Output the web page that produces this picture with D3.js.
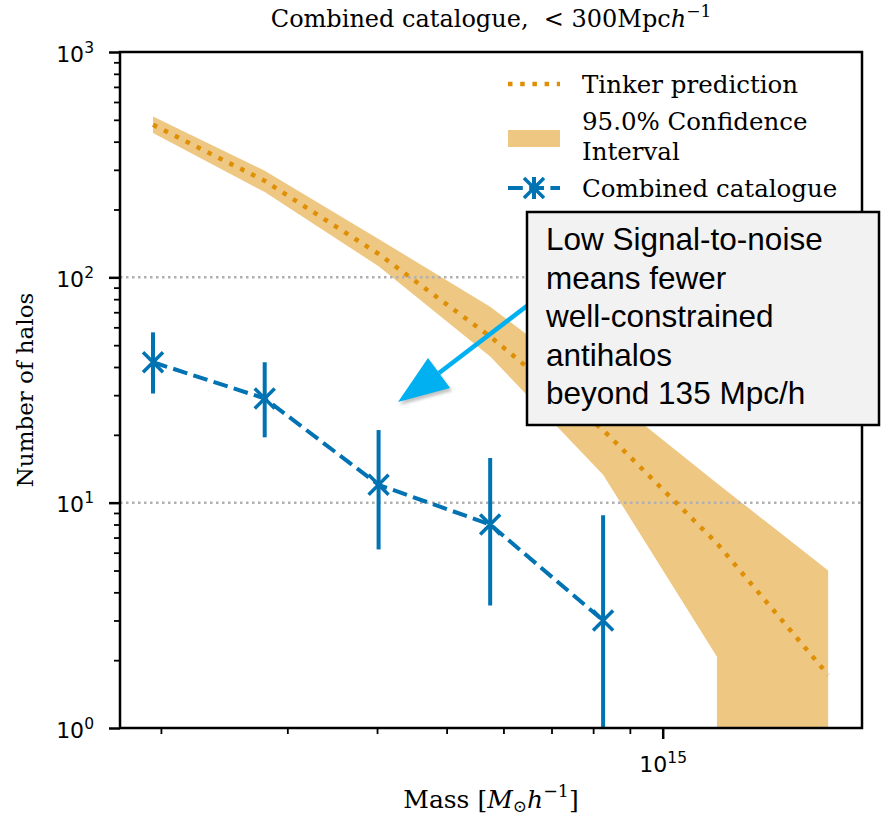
<!DOCTYPE html>
<html>
<head>
<meta charset="utf-8">
<script src="https://cdn.jsdelivr.net/npm/d3@7"></script>
<style>
  body { margin: 0; background: #fff; }
  svg { display: block; }
  text { white-space: pre; }
</style>
</head>
<body>
<div id="chart"></div>
<script>
// ---- data ----
const massBins      = [1.95e14, 2.79e14, 4.02e14, 5.75e14, 8.26e14, 1.19e15, 1.70e15];
const tinkerPred    = [475, 268, 127, 54.6, 21.0, 6.6, 1.72];
const ciUpper       = [517, 297, 148, 74, 31, 12.2, 5.0];
const ciLower       = [437, 239, 112, 44.5, 13.3, 2.07, 0];
const combinedMass  = [1.95e14, 2.79e14, 4.02e14, 5.75e14, 8.26e14];
const combinedCount = [42, 29, 12, 8, 3];
const combinedHigh  = [57, 42, 21, 15.8, 8.8];
const combinedLow   = [30.5, 19.5, 6.2, 3.5, 0];
const yMajorTicks   = [1, 10, 100, 1000];
const yTickExps     = ["0", "1", "2", "3"];
const xMajorTicks   = [1e15];
const xTickExps     = ["15"];
const xMinorTicks   = [2e14, 3e14, 4e14, 5e14, 6e14, 7e14, 8e14, 9e14];
const gridValues    = [10, 100];
const legendLabels  = [["Tinker prediction"], ["95.0% Confidence", "Interval"], ["Combined catalogue"]];
const noteLines     = ["Low Signal-to-noise", "means fewer", "well-constrained", "antihalos", "beyond 135 Mpc/h"];

// ---- layout ----
const W = 881, H = 816;
const L = 120, R = 862, T = 52, B = 728;
const ORANGE = "#de8f05", BAND = "#eec782", BLUE = "#0173b2", CYAN = "#00b0f0";
const SERIF = "'DejaVu Serif', serif", SANS = "'DejaVu Sans', sans-serif";

const svg = d3.select("#chart").append("svg").attr("width", W).attr("height", H);
svg.append("rect").attr("width", W).attr("height", H).attr("fill", "#fff");

const x = d3.scaleLog().domain([1.754e14, 1.895e15]).range([L, R]);
const y = d3.scaleLog().domain([1, 1000]).range([B, T]);
const yMinorTicks = [];
for (let dec = 1; dec < 1000; dec *= 10) for (let k = 2; k <= 9; k++) yMinorTicks.push(k * dec);

const defs = svg.append("defs");
defs.append("clipPath").attr("id", "plotclip").append("rect")
  .attr("x", L).attr("y", T).attr("width", R - L).attr("height", B - T);
const f = defs.append("filter").attr("id", "shadow").attr("x", "-20%").attr("y", "-20%").attr("width", "140%").attr("height", "140%");
f.append("feGaussianBlur").attr("stdDeviation", 1.5);

const yv = v => v > 0 ? y(v) : B + 20;   // non-positive values fall below the axis (clipped)

// ---- confidence band ----
const plot = svg.append("g").attr("clip-path", "url(#plotclip)");
const poly = [];
massBins.forEach((m, i) => poly.push([x(m), y(ciUpper[i])]));
for (let i = massBins.length - 1; i >= 0; i--) {
  if (ciLower[i] > 0) {
    if (i < massBins.length - 1 && !(ciLower[i + 1] > 0)) poly.push([x(massBins[i]), B + 20]);
    poly.push([x(massBins[i]), y(ciLower[i])]);
  } else {
    poly.push([x(massBins[i]), B + 20]);
  }
}
plot.append("path").attr("d", d3.line()(poly) + "Z").attr("fill", BAND).attr("stroke", "none");

// ---- grid ----
plot.selectAll(".grid").data(gridValues).join("line")
  .attr("x1", L).attr("x2", R).attr("y1", d => y(d)).attr("y2", d => y(d))
  .attr("stroke", "#b0b0b0").attr("stroke-width", 2.5).attr("stroke-dasharray", "2.5,3.5");

// ---- Tinker prediction ----
plot.append("path")
  .attr("d", d3.line().x((d, i) => x(massBins[i])).y(d => y(d))(tinkerPred))
  .attr("fill", "none").attr("stroke", ORANGE).attr("stroke-width", 4.5)
  .attr("stroke-dasharray", "4.5,7.7");

// ---- combined catalogue ----
plot.append("path")
  .attr("d", d3.line().x((d, i) => x(combinedMass[i])).y(d => y(d))(combinedCount))
  .attr("fill", "none").attr("stroke", BLUE).attr("stroke-width", 4)
  .attr("stroke-dasharray", "14.8,6.4");
plot.selectAll(".eb").data(combinedMass).join("line")
  .attr("x1", d => x(d)).attr("x2", d => x(d))
  .attr("y1", (d, i) => y(combinedHigh[i])).attr("y2", (d, i) => yv(combinedLow[i]))
  .attr("stroke", BLUE).attr("stroke-width", 4);
const xMarker = (cx, cy, r) => `M${cx - r},${cy - r}L${cx + r},${cy + r}M${cx - r},${cy + r}L${cx + r},${cy - r}`;
plot.selectAll(".mk").data(combinedMass).join("path")
  .attr("d", (d, i) => xMarker(x(d), y(combinedCount[i]), 10))
  .attr("stroke", BLUE).attr("stroke-width", 3.5).attr("fill", "none");

// ---- axes ----
const yAxis = svg.append("g").attr("transform", `translate(${L},0)`)
  .call(d3.axisLeft(y).tickValues(yMajorTicks).tickSize(11).tickFormat(""));
const yAxisMinor = svg.append("g").attr("transform", `translate(${L},0)`)
  .call(d3.axisLeft(y).tickValues(yMinorTicks).tickSize(6).tickFormat(""));
const xAxis = svg.append("g").attr("transform", `translate(0,${B})`)
  .call(d3.axisBottom(x).tickValues(xMajorTicks).tickSize(11).tickFormat(""));
const xAxisMinor = svg.append("g").attr("transform", `translate(0,${B})`)
  .call(d3.axisBottom(x).tickValues(xMinorTicks).tickSize(6).tickFormat(""));
[yAxis, yAxisMinor, xAxis, xAxisMinor].forEach(g => g.select(".domain").remove());
[yAxis, xAxis].forEach(g => g.selectAll(".tick line").attr("stroke", "#000").attr("stroke-width", 2.5));
[yAxisMinor, xAxisMinor].forEach(g => g.selectAll(".tick line").attr("stroke", "#000").attr("stroke-width", 1.8));

yAxis.selectAll(".tick text").each(function (d, i) {
  const t = d3.select(this).text(null)
    .attr("x", -26).attr("dy", null).attr("y", 9).attr("text-anchor", "end")
    .attr("font-family", SANS).attr("font-size", 22).attr("fill", "#000");
  t.append("tspan").text("10");
  t.append("tspan").attr("dy", -9).attr("font-size", 15.5).text(yTickExps[yMajorTicks.indexOf(d)]);
});
xAxis.selectAll(".tick text").each(function (d) {
  const t = d3.select(this).text(null)
    .attr("y", 44).attr("dy", null).attr("text-anchor", "middle")
    .attr("font-family", SANS).attr("font-size", 22).attr("fill", "#000");
  t.append("tspan").text("10");
  t.append("tspan").attr("dy", -9).attr("font-size", 15.5).text(xTickExps[xMajorTicks.indexOf(d)]);
});

// frame
svg.append("rect").attr("x", L).attr("y", T).attr("width", R - L).attr("height", B - T)
  .attr("fill", "none").attr("stroke", "#000").attr("stroke-width", 2.5);

// ---- titles ----
const title = svg.append("text").attr("x", (L + R) / 2).attr("y", 27).attr("text-anchor", "middle")
  .attr("font-family", SERIF).attr("font-size", 24).attr("fill", "#000");
title.append("tspan").text("Combined catalogue,  < 300Mpc");
title.append("tspan").attr("font-style", "italic").text("h");
title.append("tspan").attr("dy", -10).attr("font-size", 17).text("\u22121");

const xl = svg.append("text").attr("x", (L + R) / 2).attr("y", 808).attr("text-anchor", "middle")
  .attr("font-family", SERIF).attr("font-size", 25).attr("fill", "#000");
xl.append("tspan").text("Mass [");
xl.append("tspan").attr("font-style", "italic").text("M");
xl.append("tspan").attr("dy", 4).attr("font-size", 17).text("\u2299");
xl.append("tspan").attr("dy", -4).attr("font-style", "italic").text("h");
xl.append("tspan").attr("dy", -11).attr("font-size", 17.5).text("\u22121");
xl.append("tspan").attr("dy", 11).text("]");

svg.append("text").attr("transform", `translate(33,${(T + B) / 2}) rotate(-90)`)
  .attr("text-anchor", "middle").attr("font-family", SERIF).attr("font-size", 23).attr("fill", "#000")
  .text("Number of halos");

// ---- legend ----
const lg = svg.append("g");
const hx0 = 508, hx1 = 560, tx = 582;
lg.append("line").attr("x1", hx0).attr("x2", hx1).attr("y1", 84).attr("y2", 84)
  .attr("stroke", ORANGE).attr("stroke-width", 4.5).attr("stroke-dasharray", "4.5,7.7");
lg.append("rect").attr("x", hx0).attr("y", 130).attr("width", hx1 - hx0).attr("height", 17).attr("fill", BAND);
lg.append("line").attr("x1", hx0).attr("x2", hx1).attr("y1", 188).attr("y2", 188)
  .attr("stroke", BLUE).attr("stroke-width", 4).attr("stroke-dasharray", "14.8,6.4");
lg.append("line").attr("x1", (hx0 + hx1) / 2).attr("x2", (hx0 + hx1) / 2).attr("y1", 177).attr("y2", 199)
  .attr("stroke", BLUE).attr("stroke-width", 4);
lg.append("path").attr("d", xMarker((hx0 + hx1) / 2, 188, 10)).attr("stroke", BLUE).attr("stroke-width", 3.5);
const legendBaselines = [[93], [129.5, 159.5], [197]];
legendLabels.forEach((lines, i) => lines.forEach((s, j) =>
  lg.append("text").attr("x", tx).attr("y", legendBaselines[i][j]).attr("font-family", SERIF)
    .attr("font-size", 24.5).attr("fill", "#000").text(s)));

// ---- annotation arrow ----
const tip = [398, 402], c1 = [428, 358], c2 = [450, 388], start = [540, 296];
const baseMid = [(c1[0] + c2[0]) / 2, (c1[1] + c2[1]) / 2];
const arrow = svg.append("g");
arrow.append("g").attr("transform", "translate(2,3)").attr("filter", "url(#shadow)").attr("opacity", 0.35)
  .append("path").attr("d", `M${tip}L${c1}L${c2}Z`).attr("fill", "#555");
arrow.append("line").attr("x1", start[0]).attr("y1", start[1]).attr("x2", baseMid[0]).attr("y2", baseMid[1])
  .attr("stroke", CYAN).attr("stroke-width", 4.5);
arrow.append("path").attr("d", `M${tip}L${c1}L${c2}Z`).attr("fill", CYAN);

// ---- annotation box ----
svg.append("rect").attr("x", 527).attr("y", 212).attr("width", 352).attr("height", 213)
  .attr("fill", "#f2f2f2").attr("stroke", "#000").attr("stroke-width", 2.5);
noteLines.forEach((s, i) => svg.append("text").attr("x", 546).attr("y", 250 + i * 38.5)
  .attr("font-family", "'Liberation Sans', Arial, sans-serif").attr("font-size", 31.5).attr("fill", "#000").text(s));
</script>
</body>
</html>
